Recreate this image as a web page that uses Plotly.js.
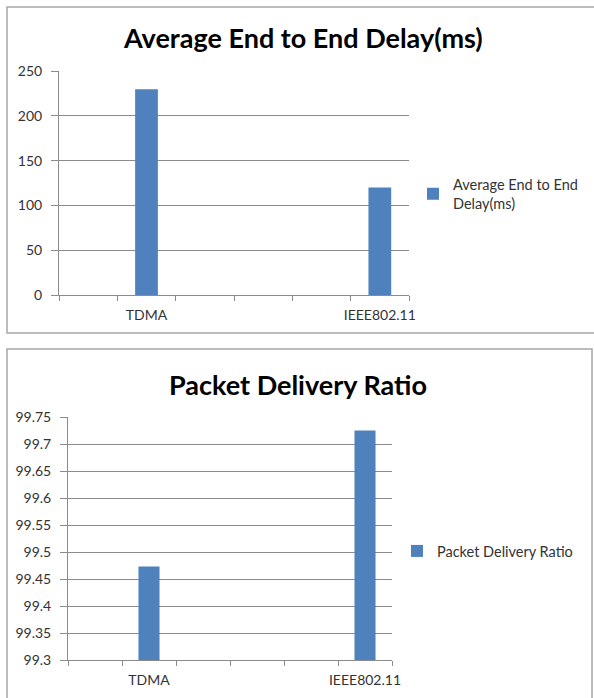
<!DOCTYPE html>
<html>
<head>
<meta charset="utf-8">
<script src="https://cdn.plot.ly/plotly-3.0.1.min.js"></script>
<style>html,body{margin:0;padding:0;background:#fff;}#chart{width:594px;height:698px;}</style>
</head>
<body>
<div id="chart"></div>
<script>
// ---- data ----
const categories = ["TDMA", "IEEE802.11"];
const slotLabels = [" ", "TDMA", "  ", "   ", "    ", "IEEE802.11"];
const delayValues = [229.5, 120];
const pdrValues = [99.473, 99.725];
const chartTitles = ["Average End to End Delay(ms)", "Packet Delivery Ratio"];
const legendNames = ["Average End to End<br>Delay(ms)", "Packet Delivery Ratio"];
const delayTicks = [0, 50, 100, 150, 200, 250];
const pdrTicks = [99.3, 99.35, 99.4, 99.45, 99.5, 99.55, 99.6, 99.65, 99.7, 99.75];

// ---- helpers ----
const W = 594, H = 698;
const px = v => v / W;
const py = v => 1 - v / H;
const FONT = "Lato, 'Open Sans', sans-serif";
const BLUE = "#4f81bd";
const GRID = "#8c8c8c";

const traces = [
  {type: "bar", x: categories, y: delayValues, name: legendNames[0],
   marker: {color: BLUE}, xaxis: "x", yaxis: "y", legend: "legend", showlegend: true},
  {type: "bar", x: categories, y: pdrValues, name: legendNames[1],
   marker: {color: BLUE}, xaxis: "x2", yaxis: "y2", legend: "legend2", showlegend: true}
];

const xCommon = {
  type: "category", categoryorder: "array", categoryarray: slotLabels,
  range: [-0.5, slotLabels.length - 0.5],
  showgrid: false, showline: true, linecolor: GRID, linewidth: 1,
  ticks: "outside", tickson: "boundaries", ticklen: 5, tickcolor: GRID,
  tickangle: 0, automargin: false,
  tickfont: {family: FONT, size: 14, color: "#333"}, ticklabelstandoff: 7,
  fixedrange: true, zeroline: false
};
const yCommon = {
  showgrid: true, gridcolor: GRID, gridwidth: 1,
  showline: true, linecolor: GRID, linewidth: 1,
  ticks: "outside", ticklen: 7, tickcolor: GRID,
  tickfont: {family: FONT, size: 14, color: "#333"}, ticklabelstandoff: 6,
  zeroline: false, fixedrange: true
};

const layout = {
  width: W, height: H,
  margin: {l: 0, r: 0, t: 0, b: 0},
  paper_bgcolor: "#fff", plot_bgcolor: "#fff",
  bargap: 0.61,
  xaxis: Object.assign({}, xCommon, {domain: [px(59), px(409)], anchor: "y"}),
  yaxis: Object.assign({}, yCommon, {domain: [py(295), py(71)], anchor: "x",
    range: [0, 250], tickvals: delayTicks, ticktext: delayTicks.map(String)}),
  xaxis2: Object.assign({}, xCommon, {domain: [px(68), px(392)], anchor: "y2"}),
  yaxis2: Object.assign({}, yCommon, {domain: [py(660), py(417)], anchor: "x2",
    range: [99.3, 99.75], tickvals: pdrTicks, ticktext: pdrTicks.map(String)}),
  legend: {x: px(413), y: py(194), xanchor: "left", yanchor: "middle",
    bgcolor: "rgba(0,0,0,0)", font: {family: FONT, size: 14.5, color: "#333"}},
  legend2: {x: px(397), y: py(551), xanchor: "left", yanchor: "middle",
    bgcolor: "rgba(0,0,0,0)", font: {family: FONT, size: 14.5, color: "#333"}},
  annotations: [
    {text: chartTitles[0], xref: "paper", yref: "paper", x: px(303), y: py(37),
     xanchor: "center", yanchor: "middle", showarrow: false,
     font: {family: FONT, size: 27, weight: 700, color: "#000"}},
    {text: chartTitles[1], xref: "paper", yref: "paper", x: px(298), y: py(384),
     xanchor: "center", yanchor: "middle", showarrow: false,
     font: {family: FONT, size: 27, weight: 700, color: "#000"}}
  ],
  shapes: [
    {type: "rect", xref: "paper", yref: "paper", x0: px(7), x1: px(600), y0: py(333), y1: py(7),
     line: {color: "#a6a6a6", width: 1.5}, fillcolor: "rgba(0,0,0,0)", layer: "below"},
    {type: "rect", xref: "paper", yref: "paper", x0: px(7), x1: px(592), y0: py(705), y1: py(349),
     line: {color: "#a6a6a6", width: 1.5}, fillcolor: "rgba(0,0,0,0)", layer: "below"}
  ]
};

Plotly.newPlot("chart", traces, layout, {staticPlot: true, displayModeBar: false});
</script>
</body>
</html>
